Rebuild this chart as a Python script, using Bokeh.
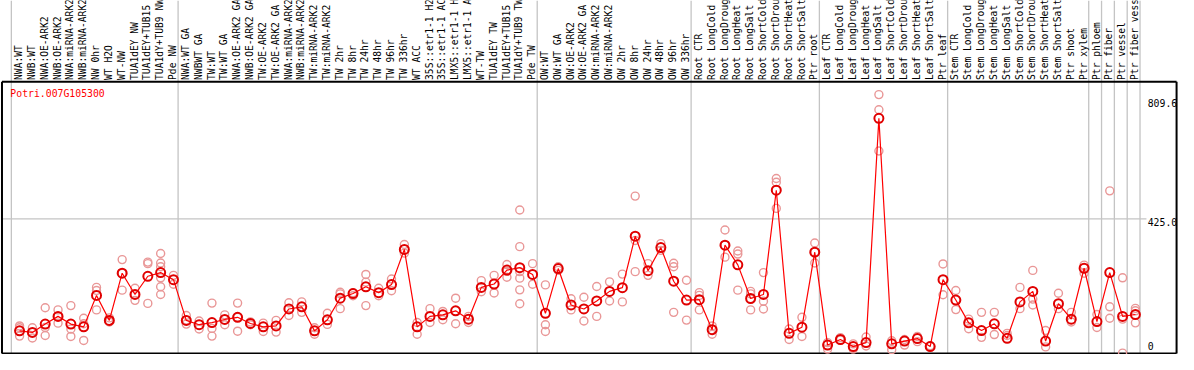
import math
from bokeh.plotting import figure
from bokeh.models import Range1d
from bokeh.core.properties import value
from bokeh.embed import file_html
from bokeh.resources import INLINE

gene = "Potri.007G105300"

categories = [
    "NWA:WT", "NWB:WT", "NWA:OE-ARK2", "NWB:OE-ARK2", "NWA:miRNA-ARK2", "NWB:miRNA-ARK2",
    "NW 0hr", "WT H2O", "WT-NW", "TUA1dEY NW", "TUA1dEY+TUB15", "TUA1dY+TUB9 NW", "Pde NW",
    "NWA:WT GA", "NWBWT GA", "TW:WT", "TW:WT GA", "NWA:OE-ARK2 GA", "NWB:OE-ARK2 GA",
    "TW:OE-ARK2", "TW:OE-ARK2 GA", "NWA:miRNA-ARK2", "NWB:miRNA-ARK2", "TW:miRNA-ARK2",
    "TW:miRNA-ARK2", "TW 2hr", "TW 8hr", "TW 24hr", "TW 48hr", "TW 96hr", "TW 336hr",
    "WT ACC", "35S::etr1-1 H2", "35S::etr1-1 AC", "LMX5::etr1-1 H", "LMX5::etr1-1 A",
    "WT-TW", "TUA1dEY TW", "TUA1dEY+TUB15", "TUA1dY+TUB9 TW", "Pde TW",
    "OW:WT", "OW:WT GA", "OW:OE-ARK2", "OW:OE-ARK2 GA", "OW:miRNA-ARK2", "OW:miRNA-ARK2",
    "OW 2hr", "OW 8hr", "OW 24hr", "OW 48hr", "OW 96hr", "OW 336hr",
    "Root CTR", "Root LongCold", "Root LongDroug", "Root LongHeat", "Root LongSalt",
    "Root ShortCold", "Root ShortDrou", "Root ShortHeat", "Root ShortSalt", "Ptr root",
    "Leaf CTR", "Leaf LongCold", "Leaf LongDroug", "Leaf LongHeat", "Leaf LongSalt",
    "Leaf ShortCold", "Leaf ShortDrou", "Leaf ShortHeat", "Leaf ShortSalt", "Ptr leaf",
    "Stem CTR", "Stem LongCold", "Stem LongDroug", "Stem LongHeat", "Stem LongSalt",
    "Stem ShortCold", "Stem ShortDrou", "Stem ShortHeat", "Stem ShortSalt", "Ptr shoot",
    "Ptr xylem", "Ptr phloem", "Ptr fiber", "Ptr vessel", "Ptr fiber vess",
]

means = [
    62, 57, 84, 109, 84, 75, 177, 96, 249, 180, 239, 251, 228,
    96, 82, 89, 99, 106, 86, 75, 78, 133, 140, 62, 98, 168, 183, 205, 186, 212, 326,
    75, 109, 114, 127, 100, 203, 214, 259, 267, 245,
    119, 264, 146, 133, 159, 190, 202, 369, 257, 332, 223, 162,
    163, 66, 340, 276, 167, 180, 518, 54, 74, 317,
    16, 34, 11, 24, 751, 20, 29, 37, 11, 228,
    162, 88, 63, 85, 38, 156, 190, 29, 150, 100, 265,
    92, 251, 109, 115,
]

replicates = [
    [72, 45, 78], [72, 57, 39], [137, 73, 47], [130, 87, 109], [144, 68, 44], [103, 31, 85],
    [203, 193, 130], [104, 91, 93], [293, 194, 249], [200, 161, 181], [285, 280, 151],
    [313, 282, 270, 234, 205, 180], [242, 213],
    [112, 84, 97], [94, 68], [152, 70, 45], [114, 82], [152, 61, 106], [91, 82], [87, 60],
    [96, 58], [153, 112], [156, 122], [72, 51], [119, 83], [187, 182, 134], [186, 176],
    [245, 220, 144], [200, 176], [230, 192], [342, 314],
    [89, 51], [134, 89], [125, 98], [168, 85], [109, 89], [225, 189], [242, 185],
    [277, 236, 255], [454, 335, 254, 233, 195, 150], [280, 213],
    [211, 82, 60], [270, 258], [166, 130], [171, 94], [206, 109], [221, 159], [246, 156],
    [499, 355, 254], [280, 242], [345, 323], [281, 270, 122], [226, 97],
    [186, 177, 130], [78, 51], [389, 340, 301], [321, 311, 194], [190, 182, 130],
    [251, 158, 133], [556, 544, 459], [68, 34], [106, 44], [347, 282, 318],
    [24, 3], [40, 32], [20, 3], [42, 13], [828, 779, 645], [30, 1], [34, 16], [44, 27],
    [14], [279, 179],
    [193, 131], [100, 69], [122, 41], [122, 50], [54, 47], [203, 134], [258, 165, 146],
    [63, 10], [184, 134], [122, 91], [275, 249],
    [115, 73], [516, 140, 103], [234, 100, -10], [135, 127, 88],
]

group_breaks = [0, 13, 41, 53, 63, 73, 84, 85, 86, 87, 88]
tick_values = [0, 425.0, 809.6]
tick_labels = ["0", "425.0", "809.6"]
tick_offsets = [-4, 3, 3]

W, H = 1178, 354
X0, X1 = -0.846, 91.0
Y0, Y1 = -14.6, 1133.1
frame_left, frame_right = -0.73, 90.85
frame_bottom, frame_top = -11.5, 869.4

p = figure(width=W, height=H, x_range=Range1d(X0, X1), y_range=Range1d(Y0, Y1),
           output_backend="svg", toolbar_location=None, x_axis_type=None,
           y_axis_type=None, min_border=0, outline_line_color=None)
p.grid.visible = False
p.background_fill_color = "white"
p.border_fill_color = "white"

grid_col = "#c4c4c4"
# group separators
p.segment(x0=group_breaks, y0=[Y0] * len(group_breaks), x1=group_breaks,
          y1=[Y1] * len(group_breaks), line_color=grid_col, line_width=1.3)
# horizontal gridline at middle tick
p.segment(x0=[frame_left], y0=[tick_values[1]], x1=[88.5], y1=[tick_values[1]],
          line_color=grid_col, line_width=1.3)

# frame
p.segment(x0=[frame_left, frame_right, frame_left, frame_left],
          y0=[frame_bottom, frame_bottom, frame_bottom, frame_top],
          x1=[frame_left, frame_right, frame_right, frame_right],
          y1=[frame_top, frame_top, frame_bottom, frame_top],
          line_color="black", line_width=2)

# header labels
xs_lab = [i + 0.57 for i in range(len(categories))]
p.text(x=xs_lab, y=[875.6] * len(categories), text=categories, angle=math.pi / 2,
       text_align="left", text_baseline="middle", text_font=value("DejaVu Sans Mono"),
       text_font_size="9.6px", text_color="black")

# replicates
rx, ry = [], []
for i, reps in enumerate(replicates):
    for r in reps:
        rx.append(i + 0.64)
        ry.append(r)
p.scatter(rx, ry, marker="circle", size=8, fill_color=None, line_color="#e99797",
          line_width=1.4)

xs = [i + 0.64 for i in range(len(means))]
p.line(xs, means, line_color="#ff0000", line_width=1.2)
p.scatter(xs, means, marker="circle", size=9, fill_color=None, line_color="#e00000",
          line_width=2)

# gene name
p.text(x=[-0.077], y=[832.2], text=[gene], text_align="left", text_baseline="middle",
       text_font=value("DejaVu Sans Mono"), text_font_size="9.8px", text_color="#ff0000")

# right-hand value labels
for v, lab, off in zip(tick_values, tick_labels, tick_offsets):
    p.text(x=[88.6], y=[v], text=[lab], text_align="left", text_baseline="middle",
           y_offset=off, text_font=value("DejaVu Sans Mono"), text_font_size="9.8px",
           text_color="black")

open("out.html", "w").write(file_html(p, INLINE))
